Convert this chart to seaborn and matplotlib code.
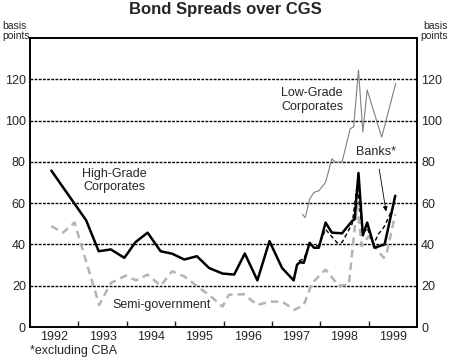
import matplotlib
matplotlib.use("Agg")
import matplotlib.pyplot as plt
import seaborn as sns

# High-Grade Corporates
hg_t = [1992.44, 1993.16, 1993.42, 1993.67, 1993.95, 1994.18, 1994.43, 1994.70, 1994.94,
        1995.19, 1995.45, 1995.70, 1995.98, 1996.22, 1996.44, 1996.70, 1996.95, 1997.21,
        1997.45, 1997.52, 1997.58, 1997.66, 1997.78, 1997.87, 1997.97, 1998.11, 1998.24,
        1998.45, 1998.66, 1998.71, 1998.79, 1998.88, 1998.97, 1999.12, 1999.33, 1999.55]
hg_v = [75.8, 51.7, 36.7, 37.6, 33.5, 41.1, 45.7, 36.7, 35.5,
        32.7, 34.3, 28.6, 25.9, 25.4, 35.6, 22.6, 41.6, 28.6,
        22.6, 30.2, 31.4, 31.1, 40.8, 38.4, 38.4, 50.6, 45.7,
        45.4, 51.4, 52.2, 74.6, 44.4, 50.6, 38.4, 40.0, 63.6]

# Low-Grade Corporates
lg_t = [1997.63, 1997.69, 1997.78, 1997.87, 1997.97, 1998.11, 1998.24, 1998.31, 1998.45,
        1998.62, 1998.69, 1998.79, 1998.88, 1998.97, 1999.27, 1999.56]
lg_v = [54.6, 53.0, 62.0, 65.2, 66.0, 70.1, 81.5, 79.9, 79.9,
        96.1, 96.9, 124.5, 94.5, 114.8, 92.0, 118.0]

# Semi-government
sg_t = [1992.44, 1992.68, 1992.92, 1993.43, 1993.67, 1993.98, 1994.19, 1994.43, 1994.70,
        1994.94, 1995.19, 1995.46, 1995.74, 1995.98, 1996.11, 1996.42, 1996.70, 1996.97,
        1997.21, 1997.47, 1997.66, 1997.83, 1998.11, 1998.38, 1998.59, 1998.76, 1998.86,
        1999.00, 1999.17, 1999.31, 1999.36, 1999.55]
sg_v = [48.9, 45.7, 50.6, 10.7, 21.3, 24.9, 22.6, 25.4, 20.0,
        27.0, 24.5, 19.7, 14.8, 9.9, 15.6, 15.9, 10.7, 12.3,
        12.3, 8.3, 10.7, 21.3, 27.8, 20.0, 20.5, 58.7, 39.2,
        44.0, 37.6, 33.5, 34.3, 54.6]

# Banks (excluding CBA)
bk_t = [1997.56, 1997.66, 1997.78, 1997.87, 1997.97, 1998.11, 1998.35, 1998.45, 1998.66,
        1998.76, 1998.88, 1998.97, 1999.10, 1999.20, 1999.33, 1999.55]
bk_v = [32.0, 33.0, 40.0, 39.0, 39.5, 47.3, 40.8, 41.0, 50.0,
        68.4, 45.0, 48.0, 40.0, 44.9, 48.9, 60.3]

years = [1992, 1993, 1994, 1995, 1996, 1997, 1998, 1999]

sns.set_style("white")
plt.rcParams['font.family'] = ['Liberation Sans', 'DejaVu Sans']

fig = plt.figure(figsize=(4.5, 3.59), dpi=100)
ax = fig.add_axes([0.0667, 0.0891, 0.86, 0.805])

for y in range(20, 140, 20):
    ax.axhline(y, color='black', lw=1, ls=(0, (2, 1)), zorder=1)

sns.lineplot(x=sg_t, y=sg_v, ax=ax, color='#b4b4b4', lw=1.8, ls=(0, (3, 2)), zorder=2)
sns.lineplot(x=lg_t, y=lg_v, ax=ax, color='#808080', lw=0.8, zorder=3)
sns.lineplot(x=bk_t, y=bk_v, ax=ax, color='black', lw=1.0, ls=(0, (3, 2)), zorder=4)
sns.lineplot(x=hg_t, y=hg_v, ax=ax, color='black', lw=1.8, zorder=5)

ax.set_xlim(1992, 2000)
ax.set_ylim(0, 140)
ax.set_xticks(range(1993, 2000))
ax.set_xticklabels([])
ax.set_xticks([y + 0.5 for y in years], minor=True)
ax.set_xticklabels([str(y) for y in years], minor=True, fontsize=9)
ax.tick_params(axis='x', which='major', direction='in', length=4, width=1, bottom=True)
ax.tick_params(axis='x', which='minor', length=0, pad=3)
ax.set_yticks(range(0, 140, 20))
ax.tick_params(axis='y', length=0, labelsize=9, pad=3, left=True, labelleft=True)

ax2 = ax.twinx()
ax2.set_ylim(0, 140)
ax2.set_yticks(range(0, 140, 20))
ax2.tick_params(axis='y', length=0, labelsize=9, pad=3)

for a in (ax, ax2):
    for s in a.spines.values():
        s.set_visible(True)
        s.set_color('black')
        s.set_linewidth(1.2)

ax.text(1993.74, 71, "High-Grade\nCorporates", ha='center', va='center', fontsize=9)
ax.text(1997.83, 110, "Low-Grade\nCorporates", ha='center', va='center', fontsize=9)
ax.text(1994.73, 10.5, "Semi-government", ha='center', va='center', fontsize=9)
ax.annotate("Banks*", xy=(1999.36, 56), xytext=(1999.16, 85), ha='center', va='center',
            fontsize=9, arrowprops=dict(arrowstyle='-|>', color='black', lw=0.6,
                                        shrinkA=6, shrinkB=0, mutation_scale=7))

fig.text(0.5, 0.973, "Bond Spreads over CGS", ha='center', va='center',
         fontsize=12, fontweight='bold')
fig.text(0.005, 0.915, "basis\npoints", ha='left', va='center', fontsize=7.5, linespacing=1.0)
fig.text(0.995, 0.915, "basis\npoints", ha='right', va='center', fontsize=7.5, linespacing=1.0)
fig.text(0.067, 0.022, "*excluding CBA", ha='left', va='center', fontsize=9)

fig.savefig("out.png", dpi=100)
